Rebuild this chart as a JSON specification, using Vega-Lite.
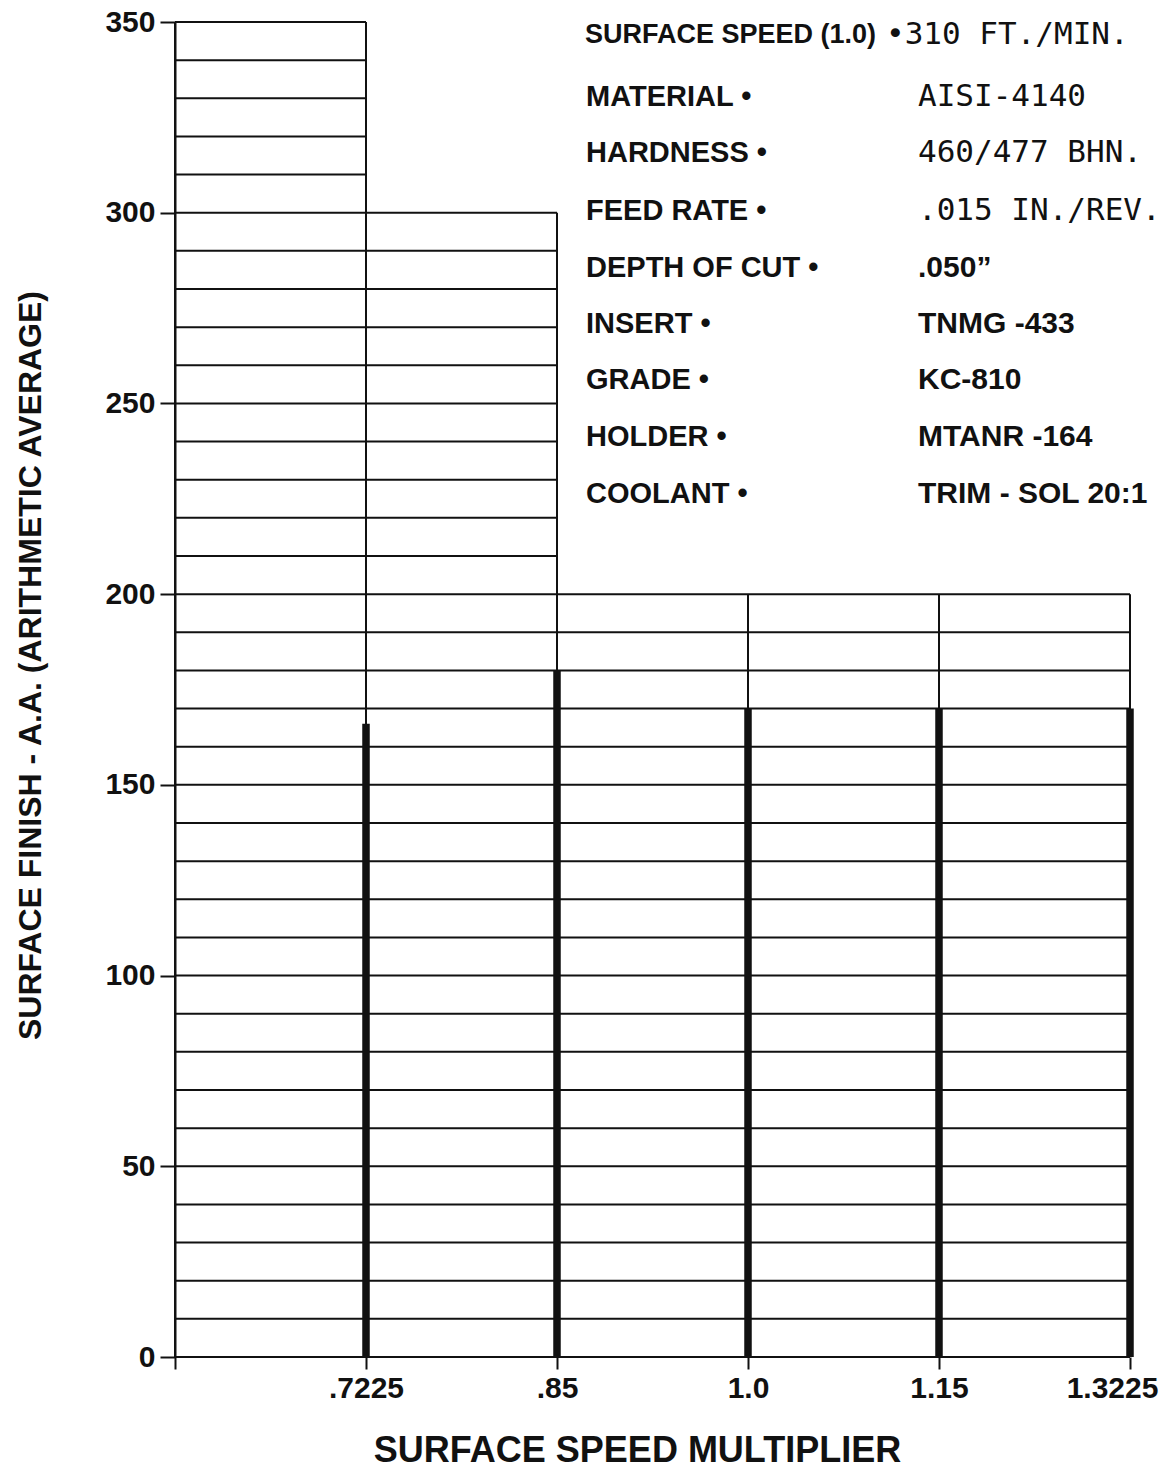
{
  "$schema": "https://vega.github.io/schema/vega-lite/v6.json",
  "width": 955,
  "height": 1335,
  "autosize": {"type": "none"},
  "padding": {"left": 175, "top": 22, "right": 39, "bottom": 112},
  "background": "white",
  "config": {"view": {"stroke": null}, "font": "Liberation Sans"},
  "datasets": {
    "finish": [
      {"multiplier": ".7225", "finish": 166},
      {"multiplier": ".85", "finish": 180},
      {"multiplier": "1.0", "finish": 170},
      {"multiplier": "1.15", "finish": 170},
      {"multiplier": "1.3225", "finish": 170}
    ],
    "columns": [
      {"multiplier": "origin", "top": 350},
      {"multiplier": ".7225", "top": 350},
      {"multiplier": ".85", "top": 300},
      {"multiplier": "1.0", "top": 200},
      {"multiplier": "1.15", "top": 200},
      {"multiplier": "1.3225", "top": 200}
    ],
    "grid": [
      {"y": 0, "end": "1.3225"}, {"y": 10, "end": "1.3225"}, {"y": 20, "end": "1.3225"},
      {"y": 30, "end": "1.3225"}, {"y": 40, "end": "1.3225"}, {"y": 50, "end": "1.3225"},
      {"y": 60, "end": "1.3225"}, {"y": 70, "end": "1.3225"}, {"y": 80, "end": "1.3225"},
      {"y": 90, "end": "1.3225"}, {"y": 100, "end": "1.3225"}, {"y": 110, "end": "1.3225"},
      {"y": 120, "end": "1.3225"}, {"y": 130, "end": "1.3225"}, {"y": 140, "end": "1.3225"},
      {"y": 150, "end": "1.3225"}, {"y": 160, "end": "1.3225"}, {"y": 170, "end": "1.3225"},
      {"y": 180, "end": "1.3225"}, {"y": 190, "end": "1.3225"}, {"y": 200, "end": "1.3225"},
      {"y": 210, "end": ".85"}, {"y": 220, "end": ".85"}, {"y": 230, "end": ".85"},
      {"y": 240, "end": ".85"}, {"y": 250, "end": ".85"}, {"y": 260, "end": ".85"},
      {"y": 270, "end": ".85"}, {"y": 280, "end": ".85"}, {"y": 290, "end": ".85"},
      {"y": 300, "end": ".85"},
      {"y": 310, "end": ".7225"}, {"y": 320, "end": ".7225"}, {"y": 330, "end": ".7225"},
      {"y": 340, "end": ".7225"}, {"y": 350, "end": ".7225"}
    ],
    "specs": [
      {"label": "SURFACE SPEED (1.0)", "value": "•310 FT./MIN.", "ty": 346.6},
      {"label": "MATERIAL •", "value": "AISI-4140", "ty": 330.4},
      {"label": "HARDNESS •", "value": "460/477 BHN.", "ty": 315.7},
      {"label": "FEED RATE •", "value": ".015 IN./REV.", "ty": 300.5},
      {"label": "DEPTH OF CUT •", "value": ".050”", "ty": 285.6},
      {"label": "INSERT •", "value": "TNMG -433", "ty": 270.9},
      {"label": "GRADE •", "value": "KC-810", "ty": 256.2},
      {"label": "HOLDER •", "value": "MTANR -164", "ty": 241.2},
      {"label": "COOLANT •", "value": "TRIM - SOL 20:1", "ty": 226.3}
    ]
  },
  "encoding": {
    "x": {"field": "multiplier", "type": "ordinal",
          "scale": {"type": "point", "domain": ["origin", ".7225", ".85", "1.0", "1.15", "1.3225"], "padding": 0},
          "axis": {
            "title": "SURFACE SPEED MULTIPLIER",
            "labelExpr": "datum.value == 'origin' ? '' : datum.label",
            "labelOffset": {"expr": "datum.value == '1.3225' ? -18 : 0"},
            "labelAngle": 0, "labelFont": "Liberation Sans", "labelFontSize": 30, "labelFontWeight": "bold", "labelColor": "#111",
            "labelBaseline": "middle", "labelPadding": 19, "labelOverlap": false,
            "tickSize": 12, "tickWidth": 2, "tickColor": "#111", "domain": false,
            "titleFont": "Liberation Sans", "titleFontSize": 36, "titleFontWeight": "bold", "titleColor": "#111",
            "titleX": 462, "titleY": 93, "titleAlign": "center", "titleBaseline": "middle"
          }},
    "y": {"field": "y", "type": "quantitative",
          "scale": {"domain": [0, 350], "nice": false, "zero": true},
          "axis": {
            "values": [0, 50, 100, 150, 200, 250, 300, 350],
            "title": "SURFACE FINISH - A.A. (ARITHMETIC AVERAGE)",
            "titleFont": "Liberation Sans", "titleFontSize": 32, "titleFontWeight": "bold", "titleColor": "#111",
            "titleX": -145, "titleY": 643, "titleAngle": 270, "titleAlign": "center", "titleBaseline": "middle",
            "labelFont": "Liberation Sans", "labelFontSize": 30, "labelFontWeight": "bold", "labelColor": "#111",
            "tickSize": 15, "tickWidth": 2, "tickColor": "#111", "labelPadding": 5,
            "domain": true, "domainWidth": 2, "domainColor": "#111", "grid": false
          }}
  },
  "layer": [
    {
      "data": {"name": "grid"},
      "mark": {"type": "rule", "stroke": "#111", "strokeWidth": 2},
      "encoding": {
        "x": {"field": "end", "type": "ordinal"},
        "x2": {"datum": "origin"}
      }
    },
    {
      "data": {"name": "columns"},
      "mark": {"type": "rule", "stroke": "#111", "strokeWidth": 2},
      "encoding": {
        "y": {"field": "top", "type": "quantitative"},
        "y2": {"datum": 0}
      }
    },
    {
      "data": {"name": "finish"},
      "mark": {"type": "rule", "stroke": "#111", "strokeWidth": 7.5, "strokeCap": "butt"},
      "encoding": {
        "y": {"field": "finish", "type": "quantitative"},
        "y2": {"datum": 0}
      }
    },
    {
      "data": {"name": "specs"},
      "transform": [{"filter": "datum.ty > 340"}],
      "mark": {"type": "text", "align": "left", "baseline": "middle", "dx": 28,
               "font": "Liberation Sans", "fontWeight": "bold", "fontSize": 27, "fill": "#111"},
      "encoding": {
        "x": {"datum": ".85", "type": "ordinal"},
        "y": {"field": "ty", "type": "quantitative"},
        "text": {"field": "label"}
      }
    },
    {
      "data": {"name": "specs"},
      "transform": [{"filter": "datum.ty <= 340"}],
      "mark": {"type": "text", "align": "left", "baseline": "middle", "dx": 29,
               "font": "Liberation Sans", "fontWeight": "bold", "fontSize": 29, "fill": "#111"},
      "encoding": {
        "x": {"datum": ".85", "type": "ordinal"},
        "y": {"field": "ty", "type": "quantitative"},
        "text": {"field": "label"}
      }
    },
    {
      "data": {"name": "specs"},
      "transform": [{"filter": "datum.ty > 340"}],
      "mark": {"type": "text", "align": "left", "baseline": "middle", "dx": -53,
               "font": "DejaVu Sans Mono", "fontSize": 31, "fill": "#111"},
      "encoding": {
        "x": {"datum": "1.15", "type": "ordinal"},
        "y": {"field": "ty", "type": "quantitative"},
        "text": {"field": "value"}
      }
    },
    {
      "data": {"name": "specs"},
      "transform": [{"filter": "datum.ty >= 300 && datum.ty <= 340"}],
      "mark": {"type": "text", "align": "left", "baseline": "middle", "dx": -21,
               "font": "DejaVu Sans Mono", "fontSize": 31, "fill": "#111"},
      "encoding": {
        "x": {"datum": "1.15", "type": "ordinal"},
        "y": {"field": "ty", "type": "quantitative"},
        "text": {"field": "value"}
      }
    },
    {
      "data": {"name": "specs"},
      "transform": [{"filter": "datum.ty < 300"}],
      "mark": {"type": "text", "align": "left", "baseline": "middle", "dx": -21,
               "font": "Liberation Sans", "fontWeight": "bold", "fontSize": 30, "fill": "#111"},
      "encoding": {
        "x": {"datum": "1.15", "type": "ordinal"},
        "y": {"field": "ty", "type": "quantitative"},
        "text": {"field": "value"}
      }
    }
  ]
}
